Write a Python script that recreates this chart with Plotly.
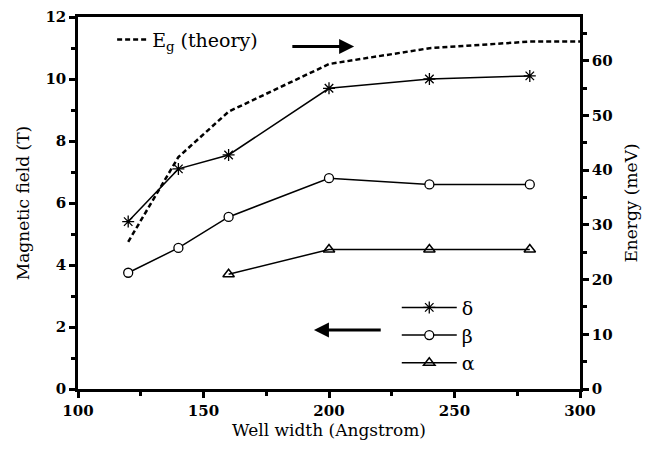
import plotly.graph_objects as go

width_delta = [120, 140, 160, 200, 240, 280]
field_delta = [5.4, 7.1, 7.55, 9.7, 10.0, 10.1]
width_beta = [120, 140, 160, 200, 240, 280]
field_beta = [3.75, 4.55, 5.55, 6.8, 6.6, 6.6]
width_alpha = [160, 200, 240, 280]
field_alpha = [3.7, 4.5, 4.5, 4.5]
width_eg = [120, 140, 160, 200, 240, 280, 300]
energy_eg = [26.9, 42.4, 50.7, 59.4, 62.3, 63.5, 63.5]

FONT = "DejaVu Serif"
fig = go.Figure()
fig.add_trace(go.Scatter(x=width_eg, y=energy_eg, yaxis="y2", mode="lines",
                         line=dict(color="black", width=2.5, dash="5px,3px"),
                         name="E<sub>g</sub> (theory)", legend="legend2"))
fig.add_trace(go.Scatter(x=width_delta, y=field_delta, mode="lines+markers", name="δ",
                         line=dict(color="black", width=1.5),
                         marker=dict(symbol="asterisk-open", size=10, color="black",
                                     line=dict(color="black", width=1.3))))
fig.add_trace(go.Scatter(x=width_beta, y=field_beta, mode="lines+markers", name="β",
                         line=dict(color="black", width=1.5),
                         marker=dict(symbol="circle", size=9, color="white",
                                     line=dict(color="black", width=1.3))))
fig.add_trace(go.Scatter(x=width_alpha, y=field_alpha, mode="lines+markers", name="α",
                         line=dict(color="black", width=1.5),
                         marker=dict(symbol="triangle-up-open", size=10, color="black",
                                     line=dict(color="black", width=1.5))))

axis_common = dict(showline=True, linecolor="black", linewidth=2.5, ticks="outside",
                   tickcolor="black", tickwidth=2.5, ticklen=6, showgrid=False,
                   zeroline=False, automargin=False, ticklabeloverflow="allow",
                   tickfont=dict(family=FONT, size=15, color="black", weight="bold"))
fig.update_layout(
    width=650, height=450, plot_bgcolor="white", paper_bgcolor="white",
    margin=dict(l=70, r=78, t=9, b=69),
    font=dict(family=FONT, color="black"),
    xaxis=dict(range=[100, 300], tickvals=[100, 150, 200, 250, 300], mirror=True,
               minor=dict(tickvals=[125, 175, 225, 275], ticks="outside", ticklen=4,
                          tickwidth=2.5, tickcolor="black"),
               title=dict(text="Well width (Angstrom)", font=dict(family=FONT, size=17), standoff=4),
               **axis_common),
    yaxis=dict(range=[0, 12], tickvals=list(range(0, 13, 2)),
               minor=dict(tickvals=list(range(1, 12, 2)), ticks="outside", ticklen=4,
                          tickwidth=2.5, tickcolor="black"),
               title=dict(text="Magnetic field (T)", font=dict(family=FONT, size=17), standoff=12),
               **axis_common),
    yaxis2=dict(range=[0, 68], overlaying="y", side="right", tickvals=list(range(0, 61, 10)),
                minor=dict(tickvals=list(range(5, 66, 10)), ticks="outside", ticklen=4,
                           tickwidth=2.5, tickcolor="black"),
                title=dict(text="Energy (meV)", font=dict(family=FONT, size=17), standoff=14),
                **axis_common),
    legend=dict(x=0.635, y=0.27, xanchor="left", yanchor="top", bgcolor="rgba(0,0,0,0)",
                font=dict(family=FONT, size=19), itemwidth=55, tracegroupgap=0),
    legend2=dict(x=0.068, y=0.99, xanchor="left", yanchor="top", bgcolor="rgba(0,0,0,0)",
                 font=dict(family=FONT, size=19)),
    showlegend=True,
)
# arrows (in data coordinates of the x axis and left y axis)
fig.add_annotation(x=210, y=11.05, ax=184, ay=11.05, xref="x", yref="y", axref="x", ayref="y",
                   text=" ", showarrow=True, arrowhead=2, arrowsize=1, arrowwidth=3, arrowcolor="black")
fig.add_annotation(x=194, y=1.9, ax=222, ay=1.9, xref="x", yref="y", axref="x", ayref="y",
                   text=" ", showarrow=True, arrowhead=2, arrowsize=1, arrowwidth=3, arrowcolor="black")
fig.write_html("out.html")
